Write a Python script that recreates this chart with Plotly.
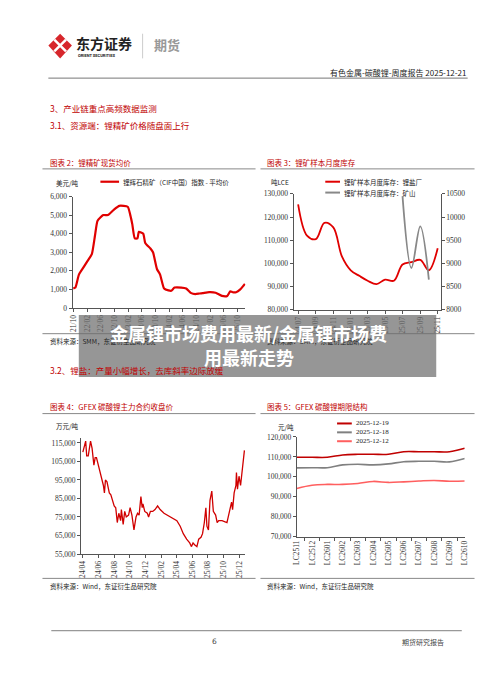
import plotly.graph_objects as go

W, H = 500, 678

# 图表2 锂辉石精矿 CIF 中国 平均价 (美元/吨)
spod_dates = ['2021-10-01', '2021-10-20', '2021-11-20', '2022-01-01', '2022-02-01', '2022-03-15',
              '2022-04-12', '2022-05-05', '2022-06-25', '2022-08-05', '2022-09-28', '2022-11-15',
              '2023-01-28', '2023-02-20', '2023-03-10', '2023-04-01', '2023-04-25', '2023-05-07',
              '2023-06-15', '2023-07-03', '2023-08-18', '2023-09-10', '2023-10-15', '2023-11-12',
              '2023-12-18', '2024-01-25', '2024-02-20', '2024-03-20', '2024-05-18', '2024-07-01',
              '2024-08-15', '2024-09-20', '2024-10-28', '2024-11-25', '2025-01-22', '2025-03-20',
              '2025-05-15', '2025-07-01', '2025-07-28', '2025-08-18', '2025-09-18', '2025-10-25',
              '2025-11-22', '2025-12-05']
spod_price = [1050, 1100, 1800, 2200, 2500, 2900, 3900, 4700, 5000, 5000, 5300, 5500,
              5450, 5000, 4500, 3750, 3750, 4100, 4000, 3500, 3200, 3000, 2100, 1800,
              1050, 950, 930, 1100, 1100, 1050, 800, 750, 780, 800, 850, 820,
              650, 650, 900, 850, 850, 1000, 1200, 1300]
spod_ticks = ['2021-10-01', '2022-02-01', '2022-06-01', '2022-10-01', '2023-02-01', '2023-06-01',
              '2023-10-01', '2024-02-01', '2024-06-01', '2024-10-01', '2025-02-01', '2025-06-01',
              '2025-10-01']
spod_ticktext = ['21/10', '22/02', '22/06', '22/10', '23/02', '23/06', '23/10', '24/02', '24/06',
                 '24/10', '25/02', '25/06', '25/10']

# 图表3 锂矿样本月度库存
inv_months = ['2024-07-01', '2024-08-01', '2024-09-01', '2024-10-01', '2024-11-01', '2024-12-01',
              '2025-01-01', '2025-02-01', '2025-03-01', '2025-04-01', '2025-05-01', '2025-06-01',
              '2025-07-01', '2025-08-01', '2025-09-01', '2025-10-01', '2025-11-01']
inv_smelter = [125500, 112000, 110500, 117500, 115500, 103000, 97000, 94500, 92500, 91000,
               93000, 92500, 99500, 100500, 101500, 97000, 106500]
mine_months = ['2025-07-01', '2025-08-01', '2025-09-01', '2025-10-01']
inv_mine = [10450, 8900, 9800, 8650]
inv_ticks = ['2024-07-01', '2024-09-01', '2024-11-01', '2025-01-01', '2025-03-01', '2025-05-01',
             '2025-07-01', '2025-09-01', '2025-11-01']
inv_ticktext = ['24/07', '24/09', '24/11', '25/01', '25/03', '25/05', '25/07', '25/09', '25/11']

# 图表4 GFEX 碳酸锂主力合约收盘价
lc_dates = ['2024-04-01', '2024-04-07', '2024-04-12', '2024-04-16', '2024-04-22', '2024-05-01',
            '2024-05-07', '2024-05-14', '2024-05-19', '2024-05-24', '2024-05-30', '2024-06-08',
            '2024-06-15', '2024-06-20', '2024-06-24', '2024-06-28', '2024-07-04', '2024-07-13',
            '2024-07-19', '2024-07-25', '2024-08-01', '2024-08-07', '2024-08-13', '2024-08-19',
            '2024-08-26', '2024-08-29', '2024-09-05', '2024-09-11', '2024-09-17', '2024-09-26',
            '2024-10-02', '2024-10-09', '2024-10-17', '2024-10-25', '2024-10-31', '2024-11-06',
            '2024-11-13', '2024-11-18', '2024-11-21', '2024-11-28', '2024-12-08', '2024-12-13',
            '2024-12-20', '2024-12-29', '2025-01-07', '2025-01-17', '2025-01-27', '2025-02-11',
            '2025-02-24', '2025-03-08', '2025-03-21', '2025-04-02', '2025-04-15', '2025-04-27',
            '2025-05-10', '2025-05-22', '2025-05-29', '2025-06-04', '2025-06-10', '2025-06-19',
            '2025-06-26', '2025-07-05', '2025-07-11', '2025-07-18', '2025-07-24', '2025-07-28',
            '2025-08-03', '2025-08-09', '2025-08-16', '2025-08-22', '2025-08-31', '2025-09-06',
            '2025-09-12', '2025-09-25', '2025-10-14', '2025-10-20', '2025-10-26', '2025-11-01',
            '2025-11-05', '2025-11-11', '2025-11-18', '2025-11-20', '2025-11-24', '2025-11-30',
            '2025-12-06', '2025-12-13', '2025-12-18', '2025-12-21']
lc_close = [110000, 113000, 116000, 108000, 108000, 116000, 112000, 103000, 107000, 107000,
            104000, 98000, 95000, 92000, 88000, 95000, 94000, 88000, 87000, 84000,
            81000, 80000, 72000, 77000, 73000, 79000, 71000, 78000, 75000, 76000,
            80000, 76000, 68000, 75000, 77000, 76000, 86000, 80000, 82000, 78000,
            77000, 75000, 78000, 78000, 79000, 81000, 79000, 77000, 76000, 75000,
            74000, 73000, 70000, 66000, 63000, 61000, 59000, 61000, 60000, 59000,
            63000, 64000, 66000, 72000, 80000, 70000, 68000, 84000, 89000, 78000,
            76000, 72000, 73000, 73000, 72000, 76000, 80000, 83000, 79000, 88000,
            92000, 99000, 90000, 97000, 92000, 100000, 109000, 111000]
lc_ticks = ['2024-04-01', '2024-06-01', '2024-08-01', '2024-10-01', '2024-12-01', '2025-02-01',
            '2025-04-01', '2025-06-01', '2025-08-01', '2025-10-01', '2025-12-01']
lc_ticktext = ['24/04', '24/06', '24/08', '24/10', '24/12', '25/02', '25/04', '25/06', '25/08',
               '25/10', '25/12']

# 图表5 GFEX 碳酸锂期限结构
contracts = ['LC2511', 'LC2512', 'LC2601', 'LC2602', 'LC2603', 'LC2604', 'LC2605', 'LC2606',
             'LC2607', 'LC2608', 'LC2609', 'LC2610']
curve_1219 = [109800, 109800, 109800, 111000, 111300, 111300, 111300, 112600, 112600, 112600,
              112600, 114300]
curve_1218 = [104500, 104600, 104600, 106000, 106300, 106000, 106500, 107600, 107800, 107800,
              107500, 109200]
curve_1212 = [94200, 95800, 96200, 96200, 96700, 97700, 97200, 97500, 97900, 98200, 97800, 97900]

RED = '#C00000'
CJK = 'Noto Sans CJK SC'
SERIF = 'Liberation Serif'


def px(x):
    return x / W


def py(y):
    return 1 - y / H


fig = go.Figure()
fig.add_trace(go.Scatter(x=spod_dates, y=spod_price, mode='lines', line=dict(color='#E00000', width=2.2, shape='spline', smoothing=0.5), xaxis='x', yaxis='y'))
fig.add_trace(go.Scatter(x=inv_months, y=inv_smelter, mode='lines', line=dict(color='#E00000', width=1.8, shape='spline'), xaxis='x2', yaxis='y2'))
fig.add_trace(go.Scatter(x=mine_months, y=inv_mine, mode='lines', line=dict(color='#888888', width=1.8, shape='spline'), xaxis='x2', yaxis='y3'))
fig.add_trace(go.Scatter(x=lc_dates, y=lc_close, mode='lines', line=dict(color='#D00000', width=1.3), xaxis='x3', yaxis='y4'))
for vals, col in [(curve_1219, '#C00000'), (curve_1218, '#808080'), (curve_1212, '#FF5F5F')]:
    fig.add_trace(go.Scatter(x=contracts, y=vals, mode='lines', line=dict(color=col, width=1.6, shape='spline'), xaxis='x4', yaxis='y5'))

tickf = dict(family=SERIF, size=7.5, color='#333')
ax = dict(showgrid=False, zeroline=False, showline=True, linecolor='#555', linewidth=1,
          ticks='outside', ticklen=3, tickcolor='#555', tickfont=tickf, fixedrange=True)

fig.update_layout(
    width=W, height=H, margin=dict(l=0, r=0, t=0, b=0), showlegend=False,
    paper_bgcolor='white', plot_bgcolor='white',
    xaxis=dict(ax, domain=[px(60.7), px(236.7)], anchor='y', type='date',
               range=['2021-09-25', '2025-12-10'], tickvals=spod_ticks, ticktext=spod_ticktext, tickangle=-90),
    yaxis=dict(ax, domain=[py(300), py(187)], anchor='x', range=[0, 6000], dtick=1000, tickformat=','),
    xaxis2=dict(ax, domain=[px(285.7), px(435.7)], anchor='y2', type='date',
                range=['2024-06-15', '2025-11-12'], tickvals=inv_ticks, ticktext=inv_ticktext, tickangle=-90),
    yaxis2=dict(ax, domain=[py(301.7), py(184.3)], anchor='x2', range=[80000, 130000], dtick=10000, tickformat=','),
    yaxis3=dict(ax, overlaying='y2', side='right', anchor='x2', range=[8000, 10500], dtick=500, tickformat='d'),
    xaxis3=dict(ax, domain=[px(69.3), px(236.7)], anchor='y4', type='date',
                range=['2024-03-25', '2025-12-25'], tickvals=lc_ticks, ticktext=lc_ticktext, tickangle=-90),
    yaxis4=dict(ax, domain=[py(549.3), py(432)], anchor='x3', range=[55000, 117500], tick0=55000, dtick=10000, tickformat=','),
    xaxis4=dict(ax, domain=[px(289), px(460)], anchor='y5', type='category', tickson='boundaries', tickangle=-90),
    yaxis5=dict(ax, domain=[py(531.7), py(430.7)], anchor='x4', range=[70000, 120000], dtick=10000, tickformat=','),
)

ann = []
shapes = []


def text(x, y, s, size=8, color='#222', family=CJK, xanchor='left', bold=False):
    if bold:
        s = '<b>' + s + '</b>'
    ann.append(dict(x=px(x), y=py(y), xref='paper', yref='paper', text=s, showarrow=False,
                    xanchor=xanchor, yanchor='middle', font=dict(size=size, color=color, family=family)))


def hline(x0, x1, y, color='#666', width=1):
    shapes.append(dict(type='line', xref='paper', yref='paper', x0=px(x0), x1=px(x1), y0=py(y), y1=py(y),
                       line=dict(color=color, width=width)))


# header logo
shapes.append(dict(type='path', xref='paper', yref='paper', fillcolor='#D7262B', line=dict(width=0),
                   path=f'M {px(48)},{py(22)} L {px(60)},{py(34)} L {px(48)},{py(47)} L {px(36)},{py(34)} Z'))
shapes.append(dict(type='line', xref='paper', yref='paper', x0=px(42), x1=px(54), y0=py(28), y1=py(40), line=dict(color='white', width=2.5)))
shapes.append(dict(type='line', xref='paper', yref='paper', x0=px(42), x1=px(54), y0=py(40), y1=py(28), line=dict(color='white', width=2.5)))
text(62, 31, '东方证券', size=14, color='#222', bold=True)
text(64, 44, 'ORIENT SECURITIES', size=4, color='#222', family='Roboto', bold=True)
shapes.append(dict(type='line', xref='paper', yref='paper', x0=px(132), x1=px(132), y0=py(22), y1=py(47), line=dict(color='#ccc', width=1)))
text(142, 33, '期货', size=13, color='#999', bold=True)
text(463, 61, '有色金属-碳酸锂-周度报告 2025-12-21', size=8, xanchor='right')
hline(36, 463, 67, '#777', 1)

text(36, 97, '3、产业链重点高频数据监测', size=8.5, color=RED)
text(36, 115, '3.1、资源端：锂精矿价格随盘面上行', size=8.5, color=RED)

# chart titles
text(36, 153, '图表 2：锂精矿现货均价', size=7.5, color=RED)
text(257, 153, '图表 3：锂矿样本月度库存', size=7.5, color=RED)
hline(30, 247, 159, '#888')
hline(252, 470, 159, '#888')
text(42, 173, '美元/吨', size=6.5)
hline(89, 108, 172, '#E00000', 2.2)
text(110, 172, '锂辉石精矿（CIF中国）指数 - 平均价', size=6.5)
text(261, 172, '吨LCE', size=6.5)
hline(318, 333, 172, '#E00000', 2)
text(335, 172, '锂矿样本月度库存：锂盐厂', size=6.5)
hline(318, 333, 183, '#888', 2)
text(335, 183, '锂矿样本月度库存：矿山', size=6.5)

hline(30, 247, 326, '#888')
hline(252, 470, 326, '#888')
text(36, 333, '资料来源：SMM，东证衍生品研究院', size=6.5)
text(257, 333, '资料来源：SMM，东证衍生品研究院', size=6.5)

text(36, 363, '3.2、锂盐：产量小幅增长，去库斜率边际放缓', size=8.5, color=RED)
text(36, 400, '图表 4：GFEX 碳酸锂主力合约收盘价', size=7.5, color=RED)
text(257, 400, '图表 5：GFEX 碳酸锂期限结构', size=7.5, color=RED)
hline(30, 247, 407, '#888')
hline(252, 470, 407, '#888')
text(42, 420, '万元/吨', size=6.5)
text(268, 421, '元/吨', size=6.5)
for yy, col, lab in [(417, '#C00000', '2025-12-19'), (426, '#808080', '2025-12-18'), (435, '#FF5F5F', '2025-12-12')]:
    hline(330, 345, yy, col, 2)
    text(347, yy, lab, size=7, family=SERIF)

hline(30, 247, 574, '#888')
hline(252, 470, 574, '#888')
text(36, 582, '资料来源：Wind，东证衍生品研究院', size=6.5)
text(257, 582, '资料来源：Wind，东证衍生品研究院', size=6.5)

hline(39, 457, 627, '#999', 1.2)
text(205, 638, '6', size=7.5, color='#444', family='DejaVu Sans', xanchor='center')
text(441, 638, '期货研究报告', size=7, color='#444', xanchor='right')

# overlay banner
shapes.append(dict(type='rect', xref='paper', yref='paper', x0=px(67), x1=px(431), y0=py(370), y1=py(307),
                   fillcolor='rgba(110,110,110,0.72)', line=dict(width=0), layer='above'))
text(240, 325, '金属锂市场费用最新/金属锂市场费', size=18, color='white', xanchor='center', bold=True)
text(240, 350, '用最新走势', size=18, color='white', xanchor='center', bold=True)

fig.update_layout(annotations=ann, shapes=shapes)
fig.write_html('out.html')
